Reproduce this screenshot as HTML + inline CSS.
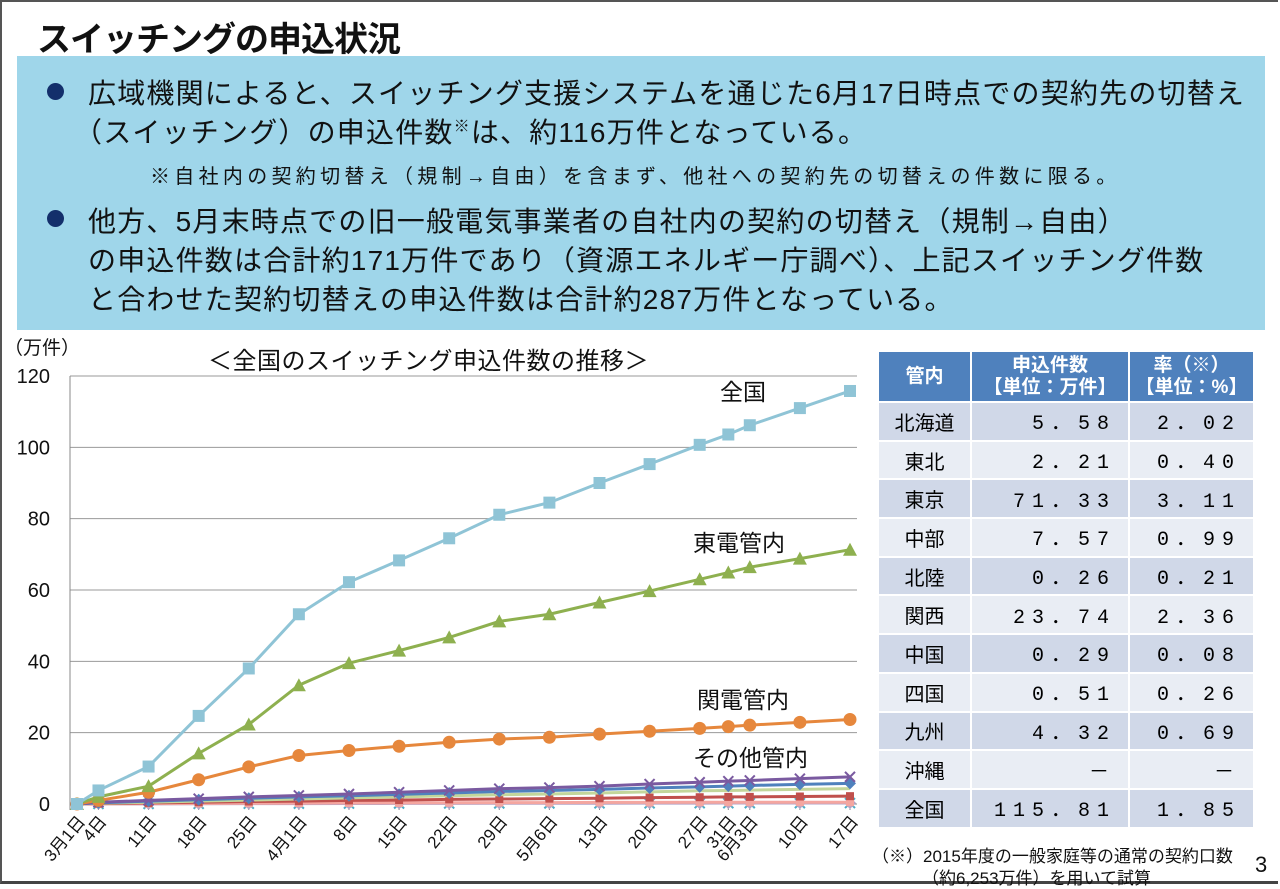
<!DOCTYPE html>
<html><head><meta charset="utf-8">
<style>
body{margin:0;width:1280px;height:888px;overflow:hidden;background:#fff;font-family:"Liberation Sans","Noto Sans CJK JP",sans-serif;position:relative}
.frame{position:absolute;left:0;top:0;width:1278px;height:884px;border-top:2px solid #555;border-left:2px solid #555;border-bottom:3px solid #444;box-sizing:border-box}
.t{position:absolute;white-space:nowrap;color:#111}
#box{position:absolute;left:17px;top:56px;width:1248px;height:274px;background:#9fd6ea}
.dot{position:absolute;width:17px;height:17px;border-radius:50%;background:#132f6b}
table{position:absolute;left:877px;top:350px;border-collapse:separate;border-spacing:2px;font-size:20px}
td,th{height:36.7px;padding:0}
th{background:#4f81bd;color:#fff;font-weight:bold;font-size:19px;line-height:22px;height:49px}
td{text-align:center}
td.n{text-align:right;padding-right:12px;font-family:"Liberation Mono","Noto Sans CJK JP",monospace;letter-spacing:7px}
tr.d td{background:#d0d8e8} tr.l td{background:#e9edf4}
.s{font-size:28px;letter-spacing:1.2px}
</style></head><body>
<div class="frame"></div>
<div id="box"></div>
<div class="t" style="left:37px;top:12px;font-size:34px;font-weight:bold;letter-spacing:-1px">スイッチングの申込状況</div>
<div class="dot" style="left:47px;top:83px"></div>
<div class="dot" style="left:47px;top:210px"></div>
<div class="t s" style="left:88px;top:72px">広域機関によると、スイッチング支援システムを通じた6月17日時点での契約先の切替え</div>
<div class="t s" style="left:74px;top:111px">（スイッチング）の申込件数<sup style="font-size:16px">※</sup>は、約116万件となっている。</div>
<div class="t" style="left:150px;top:160px;font-size:20px;letter-spacing:4.3px">※自社内の契約切替え（規制→自由）を含まず、他社への契約先の切替えの件数に限る。</div>
<div class="t s" style="left:88px;top:200px">他方、5月末時点での旧一般電気事業者の自社内の契約の切替え（規制→自由）</div>
<div class="t s" style="left:88px;top:239px">の申込件数は合計約171万件であり（資源エネルギー庁調べ）、上記スイッチング件数</div>
<div class="t s" style="left:88px;top:278px">と合わせた契約切替えの申込件数は合計約287万件となっている。</div>

<div class="t" style="left:4px;top:333px;font-size:19px">（万件）</div>
<div class="t" style="left:208px;top:341px;font-size:24px;letter-spacing:0.5px">＜全国のスイッチング申込件数の推移＞</div>
<svg id="chart" width="870" height="888" style="position:absolute;left:0;top:0"></svg>

<table>
<tr><th style="width:91px">管内</th><th style="width:156px">申込件数<br>【単位：万件】</th><th style="width:123px">率（※）<br>【単位：%】</th></tr>
<tr class="d"><td>北海道</td><td class="n">5．58</td><td class="n">2．02</td></tr>
<tr class="l"><td>東北</td><td class="n">2．21</td><td class="n">0．40</td></tr>
<tr class="d"><td>東京</td><td class="n">71．33</td><td class="n">3．11</td></tr>
<tr class="l"><td>中部</td><td class="n">7．57</td><td class="n">0．99</td></tr>
<tr class="d"><td>北陸</td><td class="n">0．26</td><td class="n">0．21</td></tr>
<tr class="l"><td>関西</td><td class="n">23．74</td><td class="n">2．36</td></tr>
<tr class="d"><td>中国</td><td class="n">0．29</td><td class="n">0．08</td></tr>
<tr class="l"><td>四国</td><td class="n">0．51</td><td class="n">0．26</td></tr>
<tr class="d"><td>九州</td><td class="n">4．32</td><td class="n">0．69</td></tr>
<tr class="l"><td>沖縄</td><td class="n">－</td><td class="n">－</td></tr>
<tr class="d"><td>全国</td><td class="n">115．81</td><td class="n">1．85</td></tr>
</table>
<div class="t" style="left:872px;top:842px;font-size:17px">（※）2015年度の一般家庭等の通常の契約口数</div>
<div class="t" style="left:922px;top:864px;font-size:17px">（約6,253万件）を用いて試算</div>
<div class="t" style="left:1255px;top:852px;font-size:22px">3</div>

<script>
const categories=["3月1日","4日","11日","18日","25日","4月1日","8日","15日","22日","29日","5月6日","13日","20日","27日","31日","6月3日","10日","17日"];
const dayOffsets=[0,3,10,17,24,31,38,45,52,59,66,73,80,87,91,94,101,108];
const yTicks=[0,20,40,60,80,100,120];
const zenkoku=[0,3.8,10.5,24.7,38,53.2,62.2,68.3,74.5,81.1,84.5,90,95.3,100.7,103.6,106.2,111,115.8];
const toden=[0,2,5,14.2,22.3,33.3,39.5,43,46.7,51.2,53.2,56.5,59.7,63,64.9,66.4,68.8,71.3];
const kanden=[0,1,3.3,6.8,10.4,13.6,15,16.2,17.3,18.2,18.7,19.6,20.4,21.2,21.7,22.1,22.9,23.7];
const chubu=[0,0.5,1,1.5,2,2.4,2.8,3.3,3.8,4.3,4.6,5,5.6,6.1,6.4,6.6,7.1,7.6];
const hokkaido=[0,0.3,0.8,1.2,1.6,2,2.3,2.7,3.1,3.5,3.8,4.1,4.5,4.8,5,5.2,5.5,5.8];
const kyushu=[0,0.2,0.5,0.8,1.1,1.4,1.7,2,2.3,2.6,2.8,3.1,3.4,3.7,3.8,3.9,4.1,4.3];
const tohoku=[0,0.1,0.3,0.5,0.7,0.8,1,1.1,1.3,1.4,1.5,1.6,1.8,1.9,2,2,2.1,2.2];
const shikoku=[0,0.05,0.1,0.15,0.2,0.25,0.3,0.3,0.35,0.4,0.4,0.45,0.45,0.5,0.5,0.5,0.5,0.5];
const chugoku=[0,0.03,0.05,0.08,0.1,0.12,0.14,0.16,0.18,0.2,0.21,0.22,0.24,0.26,0.27,0.28,0.29,0.29];
const hokuriku=[0,0.02,0.04,0.06,0.08,0.1,0.12,0.14,0.15,0.17,0.18,0.19,0.2,0.22,0.23,0.24,0.25,0.26];

const svg=document.getElementById('chart');const NS='http://www.w3.org/2000/svg';
const x0=77,x1=850,yb=804,yt=376;
const X=d=>x0+(x1-x0)*d/dayOffsets[dayOffsets.length-1];
const Y=v=>yb-(yb-yt)*v/120;
function mk(t,a,p){const e=document.createElementNS(NS,t);for(const k in a)e.setAttribute(k,a[k]);(p||svg).appendChild(e);return e;}
yTicks.forEach(v=>{
 const l=mk('line',{x1:70,x2:857,y1:Y(v),y2:Y(v),stroke:v===0?'#888':'#999','stroke-width':1});
 
 
 const t=mk('text',{x:50,y:Y(v)+7,'text-anchor':'end','font-size':20,fill:'#111','font-family':'Liberation Sans, sans-serif'});t.textContent=v;
 
 
});
const ax=mk('line',{x1:70,x2:70,y1:376,y2:810,stroke:'#888'});


categories.forEach((c,i)=>{
 const x=X(dayOffsets[i]);
 mk('line',{x1:x,x2:x,y1:804,y2:810,stroke:'#888'});
 const t=mk('text',{x:0,y:0,'text-anchor':'end','font-size':17,fill:'#111','font-family':'Liberation Sans, Noto Sans CJK JP, sans-serif',transform:`translate(${x+9},${822}) rotate(-50)`});t.textContent=c;
 
 
});
function series(vals,color,w,marker,name){
 const g=mk('g',{});
 
 
 mk('polyline',{points:vals.map((v,i)=>X(dayOffsets[i])+','+Y(v)).join(' '),fill:'none',stroke:color,'stroke-width':w},g);
 vals.forEach((v,i)=>{const x=X(dayOffsets[i]),y=Y(v);
  if(marker==='sq')mk('rect',{x:x-6,y:y-6,width:12,height:12,fill:color},g);
  else if(marker==='tri')mk('polygon',{points:`${x},${y-7} ${x-7},${y+6} ${x+7},${y+6}`,fill:color},g);
  else if(marker==='ci')mk('circle',{cx:x,cy:y,r:6.5,fill:color},g);
  else if(marker==='x'){mk('path',{d:`M${x-5} ${y-5}L${x+5} ${y+5}M${x+5} ${y-5}L${x-5} ${y+5}`,stroke:color,'stroke-width':2},g);}
  else if(marker==='dia')mk('polygon',{points:`${x},${y-6} ${x+6},${y} ${x},${y+6} ${x-6},${y}`,fill:color},g);
  else if(marker==='sm')mk('rect',{x:x-4,y:y-4,width:8,height:8,fill:color},g);
 });
}
series(hokuriku,'#4bacc6',2,'x','series-hokuriku');
series(chugoku,'#b3a2c7',3,'dia','series-chugoku');
series(shikoku,'#f4a6a0',3,'sm','series-shikoku');
series(tohoku,'#c0504d',3,'sm','series-tohoku');
series(kyushu,'#c3d69b',3,'none','series-kyushu');
series(hokkaido,'#4f81bd',3,'dia','series-hokkaido');
series(chubu,'#7a5aa0',3,'x','series-chubu');
series(kanden,'#e6873c',3,'ci','series-kansai');
series(toden,'#8eb04f',3,'tri','series-tokyo');
series(zenkoku,'#8fc4d6',3,'sq','series-national');
[['全国',720,400],['東電管内',693,551],['関電管内',697,708],['その他管内',693,766]].forEach(a=>{
 const t=mk('text',{x:a[1],y:a[2],'font-size':23,fill:'#111','font-family':'Liberation Sans, Noto Sans CJK JP, sans-serif'});t.textContent=a[0];
 
 
});
</script>
</body></html>
